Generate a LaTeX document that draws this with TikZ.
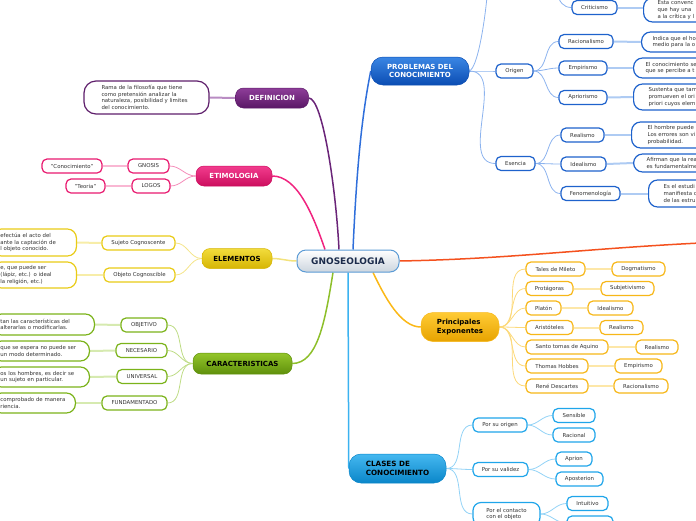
\documentclass[tikz,border=0pt]{standalone}
\usepackage{fontspec}
\setmainfont{DejaVu Sans}
\usetikzlibrary{backgrounds,calc}
\definecolor{txt}{HTML}{333333}
\definecolor{purT}{HTML}{8E3E99}\definecolor{purB}{HTML}{5A1766}\definecolor{purD}{HTML}{5E1E6B}\definecolor{purL}{HTML}{B98CC3}\definecolor{purM}{HTML}{6A2478}
\definecolor{pinkT}{HTML}{F23C8E}\definecolor{pinkB}{HTML}{CC0E5E}\definecolor{pinkD}{HTML}{E8196F}\definecolor{pinkL}{HTML}{F58DBA}\definecolor{pinkLL}{HTML}{F9B7D3}\definecolor{pinkM}{HTML}{F0237F}
\definecolor{yelT}{HTML}{F2DC3C}\definecolor{yelB}{HTML}{D6B504}\definecolor{yelD}{HTML}{E9CB16}\definecolor{yelL}{HTML}{F4E48A}\definecolor{yelLL}{HTML}{F7EDA8}\definecolor{yelM}{HTML}{F3E27C}
\definecolor{grnT}{HTML}{94C62A}\definecolor{grnB}{HTML}{5F900C}\definecolor{grnD}{HTML}{7BB31A}\definecolor{grnL}{HTML}{BEDC85}\definecolor{grnLL}{HTML}{D6EAB0}\definecolor{grnM}{HTML}{8DBF2A}
\definecolor{bluT}{HTML}{3A86E4}\definecolor{bluB}{HTML}{0B4DB3}\definecolor{bluD}{HTML}{1E62CC}\definecolor{bluL}{HTML}{8CB3EE}\definecolor{bluLL}{HTML}{AECBF3}\definecolor{bluM}{HTML}{2F6FDB}
\definecolor{gldT}{HTML}{FFCB35}\definecolor{gldB}{HTML}{E7A300}\definecolor{gldD}{HTML}{F7B718}\definecolor{gldL}{HTML}{FCD97A}\definecolor{gldLL}{HTML}{FDE7A8}\definecolor{gldM}{HTML}{FBB817}
\definecolor{cyaT}{HTML}{45B8F0}\definecolor{cyaB}{HTML}{0A86C9}\definecolor{cyaD}{HTML}{1FA5EA}\definecolor{cyaL}{HTML}{93D3F6}\definecolor{cyaM}{HTML}{3BB2F0}
\definecolor{redM}{HTML}{F4511E}
\definecolor{gnoB}{HTML}{CCD5DE}\definecolor{gnoD}{HTML}{5B9BD5}\definecolor{gnoTx}{HTML}{1B2B4B}
\tikzset{
  mainnode/.style={rounded corners=8pt, inner sep=0pt, align=center, font=\fontsize{7}{8.5}\selectfont\bfseries, line width=0.5pt},
  leaf/.style={rounded corners=5pt, inner sep=0pt, align=center, fill=white, line width=1.2pt, text=txt, font=\fontsize{5.4}{6.6}\selectfont, minimum height=14pt},
  note/.style={leaf, rounded corners=9pt, align=left},
  lnthin/.style={line width=0.8pt},
  lnthick/.style={line width=2pt},
  lnmain/.style={line width=1.5pt},
}
\begin{document}
\begin{tikzpicture}[x=1pt,y=-1pt]
\useasboundingbox (0,0) rectangle (696,520);
\clip (0,0) rectangle (696,520);
\coordinate (redend) at (700,243);
\coordinate (topc) at (487,-3);
\coordinate (cric) at (557,-8);

% centre
\node[mainnode, top color=white, bottom color=gnoB, draw=gnoD, line width=1pt, text=gnoTx, font=\fontsize{9}{10}\selectfont\bfseries, minimum width=102pt, minimum height=22pt, rounded corners=9pt] (g) at (348,261) {GNOSEOLOGIA};

% DEFINICION
\node[mainnode, top color=purT, bottom color=purB, draw=purD, text=white, minimum width=73pt, minimum height=20pt] (def) at (272,98) {DEFINICION};
\node[note, draw=purD, text width=90pt, inner xsep=17.5pt, minimum height=33pt, rounded corners=12pt] (defn) at (146.5,97.5) {Rama de la filosofía que tiene\\como pretensión analizar la\\naturaleza, posibilidad y limites\\del conocimiento.};

% ETIMOLOGIA
\node[mainnode, top color=pinkT, bottom color=pinkB, draw=pinkB, text=white, minimum width=76pt, minimum height=20pt] (eti) at (234,176) {ETIMOLOGIA};
\node[leaf, draw=pinkD, minimum width=41pt] (gno) at (148.5,166) {GNOSIS};
\node[leaf, draw=pinkD, minimum width=38pt] (log) at (151,186) {LOGOS};
\node[leaf, draw=pinkD, minimum width=60pt] (con) at (72,166) {"Conocimiento"};
\node[leaf, draw=pinkD, minimum width=39pt] (teo) at (85.5,186) {"Teoria"};

% ELEMENTOS
\node[mainnode, top color=yelT, bottom color=yelB, draw=yelB, text=black, minimum width=70pt, minimum height=20pt] (ele) at (237,258.5) {ELEMENTOS};
\node[leaf, draw=yelD, minimum width=73pt] (suj) at (138.5,243) {Sujeto Cognoscente};
\node[leaf, draw=yelD, minimum width=71pt] (obj) at (139.5,275) {Objeto Cognoscible};
\node[note, draw=yelD, anchor=east, text width=68pt, inner xsep=8pt, minimum height=27pt] (sujn) at (77,242.5) {efectúa el acto del\\ante la captación de\\l objeto conocido.};
\node[note, draw=yelD, anchor=east, text width=68pt, inner xsep=8pt, minimum height=26pt] (objn) at (77,275) {e, que puede ser\\(lápiz, etc.) o ideal\\la religión, etc.)};

% CARACTERISTICAS
\node[mainnode, top color=grnT, bottom color=grnB, draw=grnB, text=black, minimum width=99pt, minimum height=21pt] (car) at (242.5,363.5) {CARACTERISTICAS};
\node[leaf, draw=grnD, minimum width=46pt] (ob) at (144,325) {OBJETIVO};
\node[leaf, draw=grnD, minimum width=51pt] (nec) at (141.5,350.5) {NECESARIO};
\node[leaf, draw=grnD, minimum width=50pt] (uni) at (142,376.5) {UNIVERSAL};
\node[leaf, draw=grnD, minimum width=65pt] (fun) at (134.5,403) {FUNDAMENTADO};
\node[note, draw=grnD, anchor=east, text width=86pt, inner xsep=8pt, minimum height=21pt] (obn) at (95,324.5) {tan las características del\\alterarlas o modificarlas.};
\node[note, draw=grnD, anchor=east, text width=81pt, inner xsep=8pt, minimum height=20pt] (necn) at (90,351) {que se espera no puede ser\\un modo determinado.};
\node[note, draw=grnD, anchor=east, text width=81pt, inner xsep=8pt, minimum height=20pt] (unin) at (90,377) {os los hombres, es decir se\\un sujeto en particular.};
\node[note, draw=grnD, anchor=east, text width=67pt, inner xsep=8pt, minimum height=20pt] (funn) at (76,403) {comprobado de manera\\riencia.};

% PROBLEMAS
\node[mainnode, top color=bluT, bottom color=bluB, draw=bluB, text=white, minimum width=98pt, minimum height=28pt, rounded corners=12pt] (pro) at (420,71) {PROBLEMAS DEL\\CONOCIMIENTO};
\node[leaf, draw=bluD, minimum width=37pt] (ori) at (514.5,71) {Origen};
\node[leaf, draw=bluD, minimum width=45pt] (cri) at (594.5,7.5) {Criticismo};
\node[leaf, draw=bluD, minimum width=54pt] (rac) at (586,41.5) {Racionalismo};
\node[leaf, draw=bluD, minimum width=48pt] (emp) at (583,68) {Empirismo};
\node[leaf, draw=bluD, minimum width=48pt] (apr) at (583,97.5) {Apriorismo};
\node[leaf, draw=bluD, minimum width=39pt] (ese) at (515.5,163.5) {Esencia};
\node[leaf, draw=bluD, minimum width=43pt] (rea) at (582.5,135) {Realismo};
\node[leaf, draw=bluD, minimum width=45pt] (ide) at (583.5,164) {Idealismo};
\node[leaf, draw=bluD, minimum width=59pt] (fen) at (590.5,193.5) {Fenomenología};
\node[note, draw=bluD, anchor=west, text width=80pt, inner xsep=14pt, minimum height=24pt] (crin) at (643,10) {Esta convenc\\que hay una\\a la crítica y l};
\node[note, draw=bluD, anchor=west, text width=80pt, inner xsep=11pt, minimum height=20pt] (racn) at (641,42) {Indica que el ho\\medio para la o};
\node[note, draw=bluD, anchor=west, text width=80pt, inner xsep=12pt, minimum height=20pt] (empn) at (633,68) {El conocimiento se\\que se percibe a t};
\node[note, draw=bluD, anchor=west, text width=80pt, inner xsep=15pt, minimum height=26pt] (aprn) at (633,97) {Sustenta que tam\\promueven el ori\\priori cuyos elem};
\node[note, draw=bluD, anchor=west, text width=80pt, inner xsep=16pt, minimum height=26pt] (rean) at (631,135) {El hombre puede\\Los errores son vi\\probabilidad.};
\node[note, draw=bluD, anchor=west, text width=80pt, inner xsep=13pt, minimum height=18pt] (iden) at (633,163) {Afirman que la rea\\es fundamentalme};
\node[note, draw=bluD, anchor=west, text width=80pt, inner xsep=15pt, minimum height=27pt] (fenn) at (648,193.5) {Es el estudi\\manifiesta c\\de las estru};

% Principales Exponentes
\node[mainnode, top color=gldT, bottom color=gldB, draw=gldD, text=black, align=left, minimum width=78pt, minimum height=29pt, rounded corners=12pt] (pri) at (460,327) {Principales\\Exponentes};
\node[leaf, draw=gldD, minimum width=59pt] (tal) at (555.5,269) {Tales de Mileto};
\node[leaf, draw=gldD, minimum width=53pt] (dog) at (638.5,269) {Dogmatismo};
\node[leaf, draw=gldD, minimum width=47pt] (prot) at (549.5,288.5) {Protágoras};
\node[leaf, draw=gldD, minimum width=53pt] (sub) at (627.5,288.5) {Subjetivismo};
\node[leaf, draw=gldD, minimum width=35pt] (pla) at (543.5,308) {Platón};
\node[leaf, draw=gldD, minimum width=45pt] (ideb) at (610.5,308) {Idealismo};
\node[leaf, draw=gldD, minimum width=47pt] (ari) at (549.5,327.5) {Aristóteles};
\node[leaf, draw=gldD, minimum width=43pt] (reab) at (621.5,327.5) {Realismo};
\node[leaf, draw=gldD, minimum width=82pt] (san) at (567,347) {Santo tomas de Aquino};
\node[leaf, draw=gldD, minimum width=42pt] (reac) at (657,347) {Realismo};
\node[leaf, draw=gldD, minimum width=62pt] (hob) at (557,366) {Thomas Hobbes};
\node[leaf, draw=gldD, minimum width=47pt] (empb) at (638.5,366) {Empirismo};
\node[leaf, draw=gldD, minimum width=62pt] (des) at (557,386) {René Descartes};
\node[leaf, draw=gldD, minimum width=54pt] (racb) at (641,386) {Racionalismo};

% CLASES
\node[mainnode, top color=cyaT, bottom color=cyaB, draw=cyaB, text=black, align=left, minimum width=97pt, minimum height=29pt, rounded corners=12pt, font=\fontsize{7.2}{8.8}\selectfont\bfseries] (cla) at (397.5,468.5) {CLASES DE\\CONOCIMIENTO};
\node[leaf, draw=cyaD, minimum width=54pt] (por) at (500,425) {Por su origen};
\node[leaf, draw=cyaD, minimum width=42pt] (sen) at (574,415.5) {Sensible};
\node[leaf, draw=cyaD, minimum width=42pt] (racl) at (574,435) {Racional};
\node[leaf, draw=cyaD, minimum width=55pt] (val) at (500.5,469.5) {Por su validez};
\node[leaf, draw=cyaD, minimum width=36pt] (apri) at (574,459) {Aprion};
\node[leaf, draw=cyaD, minimum width=47pt] (apos) at (579.5,479) {Aposterion};
\node[leaf, draw=cyaD, align=left, minimum width=67pt, minimum height=23pt, rounded corners=8pt] (cont) at (506.5,514) {Por el contacto\\con el objeto};
\node[leaf, draw=cyaD, minimum width=41pt] (int) at (587.5,503.5) {Intuitivo};
\node[leaf, draw=cyaD, minimum width=46pt] (last) at (590,523) {};

\begin{scope}[on background layer]
% main branches
\draw[lnmain, purM] (def.east) .. controls +(14,0) and +(-3,-60) .. ($(g.north)+(-9,0)$);
\draw[lnmain, pinkM] (eti.east) .. controls +(25,0) and +(-12,-35) .. ($(g.north)+(-23,0)$);
\draw[lnmain, bluM] ($(g.north)+(5,0)$) .. controls +(4,-90) and +(-8,40) .. (pro.west);
\draw[lnmain, yelM] (ele.east) to[out=0,in=180] (g.west);
\draw[lnmain, grnM] ($(g.south)+(-15,0)$) .. controls +(-8,50) and +(25,0) .. (car.east);
\draw[lnmain, gldM] ($(g.south)+(25,0)$) .. controls +(12,25) and +(-20,0) .. (pri.west);
\draw[lnmain, cyaM] (g.south) -- (cla.west);
\draw[lnmain, redM] (g.east) .. controls +(110,-2) and +(-120,6) .. (redend);
% definicion
\draw[lnthick, purL] (def.west) -- (defn.east);
% etimologia
\draw[lnthin, pinkL] (eti.west) to[out=180,in=0] (gno.east);
\draw[lnthin, pinkL] (eti.west) to[out=180,in=0] (log.east);
\draw[lnthick, pinkLL] (gno.west) -- (con.east);
\draw[lnthick, pinkLL] (log.west) -- (teo.east);
% elementos
\draw[lnthin, yelL] (ele.west) to[out=180,in=0] (suj.east);
\draw[lnthin, yelL] (ele.west) to[out=180,in=0] (obj.east);
\draw[lnthick, yelLL] (suj.west) -- (sujn.east);
\draw[lnthick, yelLL] (obj.west) -- (objn.east);
% caracteristicas
\foreach \c/\n in {ob/obn,nec/necn,uni/unin,fun/funn}{
  \draw[lnthin, grnL] (car.west) to[out=180,in=0] (\c.east);
  \draw[lnthick, grnLL] (\c.west) -- (\n.east);
}
% problemas
\draw[lnthin, bluL] (pro.east) to[out=0,in=180] (ori.west);
\draw[lnthin, bluL] (pro.east) to[out=0,in=180] (ese.west);
\draw[lnthin, bluL] (pro.east) .. controls +(8,-3) and +(-3,30) .. (topc);
\draw[lnthin, bluL] (cric) .. controls +(2,10) and +(-8,0) .. (cri.west);
\foreach \c in {rac,emp,apr}{\draw[lnthin, bluL] (ori.east) to[out=0,in=180] (\c.west);}
\foreach \c in {rea,ide,fen}{\draw[lnthin, bluL] (ese.east) to[out=0,in=180] (\c.west);}
\draw[lnthick, bluLL] (cri.east) -- (cri.east -| crin.west);
\foreach \c/\n in {rac/racn,emp/empn,apr/aprn,rea/rean,ide/iden,fen/fenn}{
  \draw[lnthick, bluLL] (\c.east) -- (\n.west);
}
% principales
\foreach \c/\n in {tal/dog,prot/sub,pla/ideb,ari/reab,san/reac,hob/empb,des/racb}{
  \draw[lnthin, gldL] (pri.east) to[out=0,in=180] (\c.west);
  \draw[lnthick, gldLL] (\c.east) -- (\n.west);
}
% clases
\foreach \c in {por,val,cont}{\draw[lnthin, cyaL] (cla.east) to[out=0,in=180] (\c.west);}
\draw[lnthin, cyaL] (por.east) to[out=0,in=180] (sen.west);
\draw[lnthin, cyaL] (por.east) to[out=0,in=180] (racl.west);
\draw[lnthin, cyaL] (val.east) to[out=0,in=180] (apri.west);
\draw[lnthin, cyaL] (val.east) to[out=0,in=180] (apos.west);
\draw[lnthin, cyaL] (cont.east) to[out=0,in=180] (int.west);
\draw[lnthin, cyaL] (cont.east) to[out=0,in=180] (last.west);
\end{scope}
\end{tikzpicture}
\end{document}
